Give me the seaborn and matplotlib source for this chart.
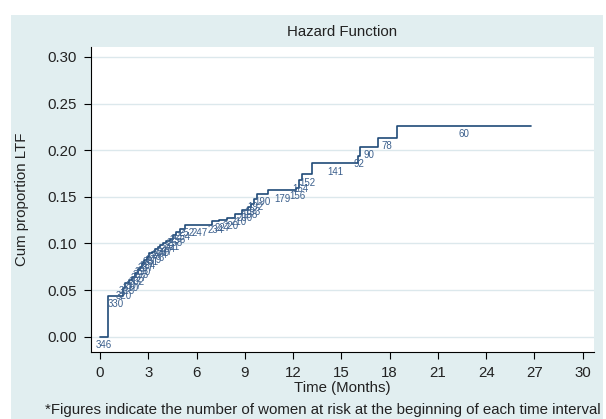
import matplotlib
matplotlib.use("Agg")
import matplotlib.pyplot as plt
from matplotlib.patches import Rectangle
import seaborn as sns
import pandas as pd

# ---- data ----
interval_start = [0.0, 0.52, 1.45, 1.55, 1.82, 1.97, 2.17, 2.38, 2.48, 2.59,
                  2.75, 2.90, 3.06, 3.21, 3.42, 3.62, 3.73, 3.93, 4.10, 4.35,
                  4.55, 4.72, 4.97, 5.28, 5.50, 6.93, 7.40, 7.87, 8.40, 8.80,
                  9.20, 9.40, 9.57, 9.73, 10.45, 12.20, 12.36, 12.57, 13.20,
                  16.05, 16.15, 17.25, 18.43]
end_time = 26.8
cum_prop = [0.0, 0.0437, 0.052, 0.0573, 0.0609, 0.0637, 0.068, 0.0722, 0.075, 0.0786,
            0.0822, 0.085, 0.0893, 0.091, 0.0936, 0.0964, 0.0982, 0.100, 0.1028, 0.1053,
            0.1089, 0.1124, 0.116, 0.1196, 0.1196, 0.1236, 0.1250, 0.127, 0.1317, 0.1356,
            0.139, 0.1427, 0.148, 0.1534, 0.157, 0.160, 0.1676, 0.174, 0.1858,
            0.194, 0.2032, 0.2128, 0.226]
at_risk = [346, 330, 320, 315, 310, 307, 302, 297, 293, 290,
           287, 284, 281, 279, 276, 274, 270, 267, 264, 261,
           258, 256, 254, 252, 247, 234, 227, 220, 210, 200,
           198, 193, 192, 190, 179, 156, 164, 152, 141,
           92, 90, 78, 60]

x_ticks = [0, 3, 6, 9, 12, 15, 18, 21, 24, 27, 30]
y_ticks = [0.00, 0.05, 0.10, 0.15, 0.20, 0.25, 0.30]

title = "Hazard Function"
x_label = "Time (Months)"
y_label = "Cum proportion LTF"
footnote = "*Figures indicate the number of women at risk at the beginning of each time interval"

# ---- style ----
sns.set_theme(style="white")
plt.rcParams["font.family"] = ["Liberation Sans", "DejaVu Sans"]

W, H = 606, 419
line_color = "#1f4a78"
label_color = "#3b5f8c"
bg_color = "#e1eef0"
grid_color = "#dce8ec"
text_color = "#222222"
fs = 10.8

fig = plt.figure(figsize=(W / 100, H / 100), dpi=100)
fig.patch.set_facecolor("white")
fig.patches.append(Rectangle((11 / W, 0), (603 - 11) / W, (H - 15) / H,
                             transform=fig.transFigure, facecolor=bg_color,
                             edgecolor="none", zorder=-10))

ax_l, ax_r, ax_t, ax_b = 91, 594, 47, 352
ax = fig.add_axes([ax_l / W, (H - ax_b) / H, (ax_r - ax_l) / W, (ax_b - ax_t) / H])
ax.set_facecolor("white")

df = pd.DataFrame({"time": interval_start + [end_time],
                   "value": cum_prop + [cum_prop[-1]]})
sns.lineplot(data=df, x="time", y="value", drawstyle="steps-post",
             color=line_color, linewidth=1.2, ax=ax, estimator=None)

ends = interval_start[1:] + [end_time]
for s, e, v, n in zip(interval_start, ends, cum_prop, at_risk):
    ax.text((s + e) / 2, v - 0.0088, str(n), ha="center", va="center",
            fontsize=7.0, color=label_color)

ax.set_xlim(-0.56, 30.7)
ax.set_ylim(-0.0164, 0.3107)
ax.set_xticks(x_ticks)
ax.set_yticks(y_ticks)
ax.set_xticklabels([str(t) for t in x_ticks])
ax.set_yticklabels([f"{t:.2f}" for t in y_ticks])
ax.yaxis.grid(True, color=grid_color, linewidth=1.0)
ax.xaxis.grid(False)
ax.set_axisbelow(True)

for side in ["top", "right"]:
    ax.spines[side].set_visible(False)
for side in ["left", "bottom"]:
    ax.spines[side].set_color("black")
    ax.spines[side].set_linewidth(0.8)

ax.tick_params(axis="both", which="major", direction="out", length=5, width=0.8,
               color="black", labelsize=fs, labelcolor=text_color, pad=5,
               bottom=True, left=True)

ax.set_xlabel(x_label, fontsize=fs, color=text_color)
ax.set_ylabel(y_label, fontsize=fs, color=text_color)
ax.xaxis.set_label_coords(((ax_l + ax_r) / 2 - ax_l) / (ax_r - ax_l),
                          -(388 - ax_b) / (ax_b - ax_t))
ax.xaxis.label.set_va("center")
ax.yaxis.set_label_coords(-(ax_l - 22) / (ax_r - ax_l), 0.5)
ax.yaxis.label.set_va("center")

fig.text((ax_l + ax_r) / 2 / W, 1 - 32 / H, title, ha="center", va="center",
         fontsize=fs, color=text_color)
fig.text(45 / W, 1 - 410 / H, footnote, ha="left", va="center",
         fontsize=fs, color=text_color)

fig.savefig("out.png", dpi=100, facecolor="white")
